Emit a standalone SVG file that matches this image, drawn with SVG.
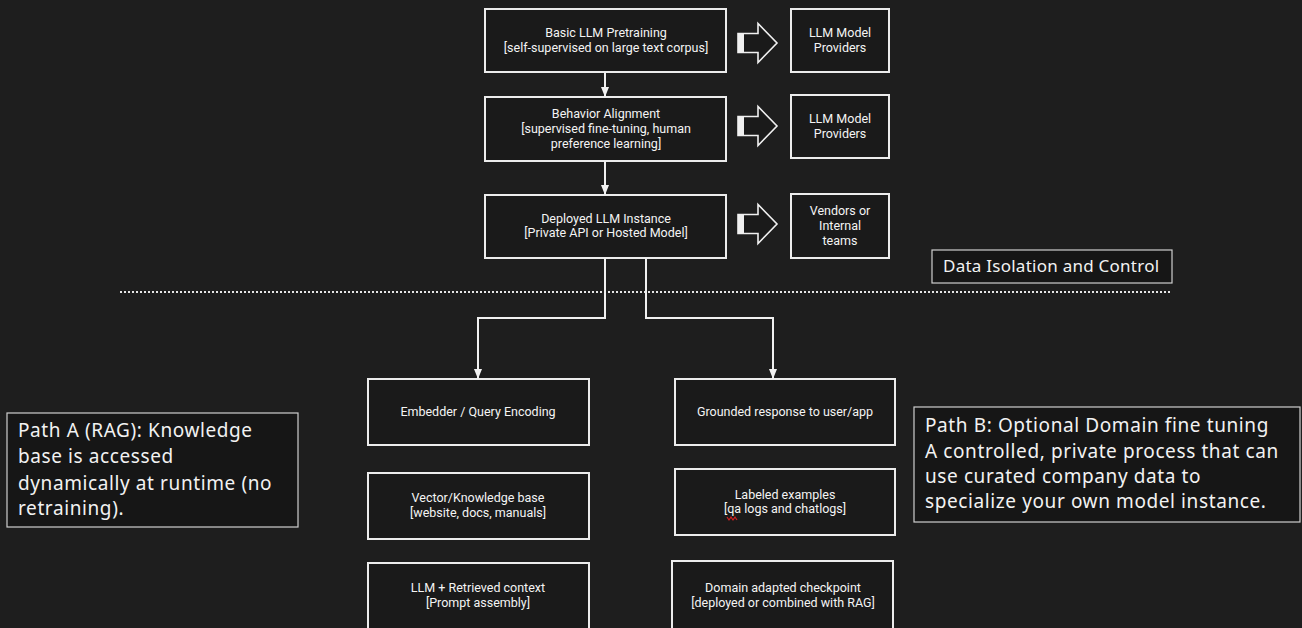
<svg xmlns="http://www.w3.org/2000/svg" width="1302" height="628" viewBox="0 0 1302 628">
<defs>
<marker id="ah" markerWidth="10" markerHeight="8" refX="10" refY="4" orient="auto" markerUnits="userSpaceOnUse">
<path d="M0,0 L10,4 L0,8 Z" fill="#f2f2f2"/>
</marker>
<g id="hollow">
<path d="M0,-9.5 L20,-9.5 L20,-19.5 L39,0 L20,19.5 L20,9.5 L0,9.5 Z" fill="#1a1a1a" stroke="#f0f0f0" stroke-width="1.6"/>
<rect x="0" y="-9.5" width="6" height="19" fill="#f0f0f0"/>
</g>
</defs>
<style>
.bg{fill:#1e1e1e}
.box rect{fill:#1a1a1a;stroke:#ececec;stroke-width:2}
.note rect{fill:#161616;stroke:#cfcfcf;stroke-width:1.2}
.s{font-family:Roboto,"Liberation Sans",sans-serif;font-size:12.5px;fill:#f4f4f4;text-anchor:middle}
.n{font-family:"Noto Sans","Open Sans",sans-serif;font-size:19px;letter-spacing:0.6px;fill:#f2f2f2}
.conn path{fill:none;stroke:#f0f0f0;stroke-width:2}
</style>
<rect class="bg" x="0" y="0" width="1302" height="628"/>

<g id="pretraining" class="box">
<rect x="485" y="9" width="241" height="63"/>
<text class="s" x="606" y="37">Basic LLM Pretraining</text>
<text class="s" x="606" y="52">[self-supervised on large text corpus]</text>
</g>
<g id="providers1" class="box">
<rect x="791" y="9" width="98" height="63"/>
<text class="s" x="840" y="37">LLM Model</text>
<text class="s" x="840" y="52">Providers</text>
</g>
<g id="alignment" class="box">
<rect x="485" y="97" width="241" height="64"/>
<text class="s" x="606" y="118">Behavior Alignment</text>
<text class="s" x="606" y="133">[supervised fine-tuning, human</text>
<text class="s" x="606" y="148">preference learning]</text>
</g>
<g id="providers2" class="box">
<rect x="791" y="95" width="98" height="63"/>
<text class="s" x="840" y="123">LLM Model</text>
<text class="s" x="840" y="138">Providers</text>
</g>
<g id="deployed" class="box">
<rect x="485" y="195" width="241" height="63"/>
<text class="s" x="606" y="223">Deployed LLM Instance</text>
<text class="s" x="606" y="237">[Private API or Hosted Model]</text>
</g>
<g id="vendors" class="box">
<rect x="791" y="194" width="98" height="64"/>
<text class="s" x="840" y="215">Vendors or</text>
<text class="s" x="840" y="230">Internal</text>
<text class="s" x="840" y="245">teams</text>
</g>

<g id="hollow-arrows">
<use href="#hollow" x="738" y="43"/>
<use href="#hollow" x="738" y="126"/>
<use href="#hollow" x="738" y="224"/>
</g>

<g id="data-isolation" class="note">
<rect x="932" y="250" width="240" height="33"/>
<text class="n" x="943" y="272" style="font-size:17px;letter-spacing:0.25px">Data Isolation and Control</text>
</g>
<path id="divider" d="M120,292 H1172" stroke="#e6e6e6" stroke-width="2" stroke-dasharray="2 2" fill="none"/>

<g id="embedder" class="box">
<rect x="368" y="379" width="221" height="66"/>
<text class="s" x="478" y="416">Embedder / Query Encoding</text>
</g>
<g id="vector" class="box">
<rect x="368" y="473" width="221" height="66"/>
<text class="s" x="478" y="502">Vector/Knowledge base</text>
<text class="s" x="478" y="517">[website, docs, manuals]</text>
</g>
<g id="llm-context" class="box">
<rect x="368" y="563" width="221" height="70"/>
<text class="s" x="478" y="592">LLM + Retrieved context</text>
<text class="s" x="478" y="607">[Prompt assembly]</text>
</g>
<g id="grounded" class="box">
<rect x="675" y="379" width="220" height="66"/>
<text class="s" x="785" y="416">Grounded response to user/app</text>
</g>
<g id="labeled" class="box">
<rect x="675" y="469" width="220" height="66"/>
<text class="s" x="785" y="499">Labeled examples</text>
<text class="s" x="785" y="513">[qa logs and chatlogs]</text>
<path d="M727,517 l2,3 l2,-3 l2,3 l2,-3 l2,3" fill="none" stroke="#d02020" stroke-width="1.2"/>
</g>
<g id="domain" class="box">
<rect x="672" y="561" width="221" height="72"/>
<text class="s" x="783" y="592">Domain adapted checkpoint</text>
<text class="s" x="783" y="607">[deployed or combined with RAG]</text>
</g>

<g id="path-a" class="note">
<rect x="7" y="413" width="291" height="114"/>
<text class="n" x="18" y="437">Path A (RAG): Knowledge</text>
<text class="n" x="18" y="463">base is accessed</text>
<text class="n" x="18" y="490">dynamically at runtime (no</text>
<text class="n" x="18" y="515">retraining).</text>
</g>
<g id="path-b" class="note">
<rect x="914" y="407" width="386" height="115"/>
<text class="n" x="925" y="432">Path B: Optional Domain fine tuning</text>
<text class="n" x="925" y="458">A controlled, private process that can</text>
<text class="n" x="925" y="483">use curated company data to</text>
<text class="n" x="925" y="508">specialize your own model instance.</text>
</g>

<g id="connectors" class="conn">
<path d="M605,72 V97" marker-end="url(#ah)"/>
<path d="M605,161 V195" marker-end="url(#ah)"/>
<path d="M605,258 V318 H478 V379" marker-end="url(#ah)"/>
<path d="M646,258 V318 H773 V379" marker-end="url(#ah)"/>
</g>
</svg>
